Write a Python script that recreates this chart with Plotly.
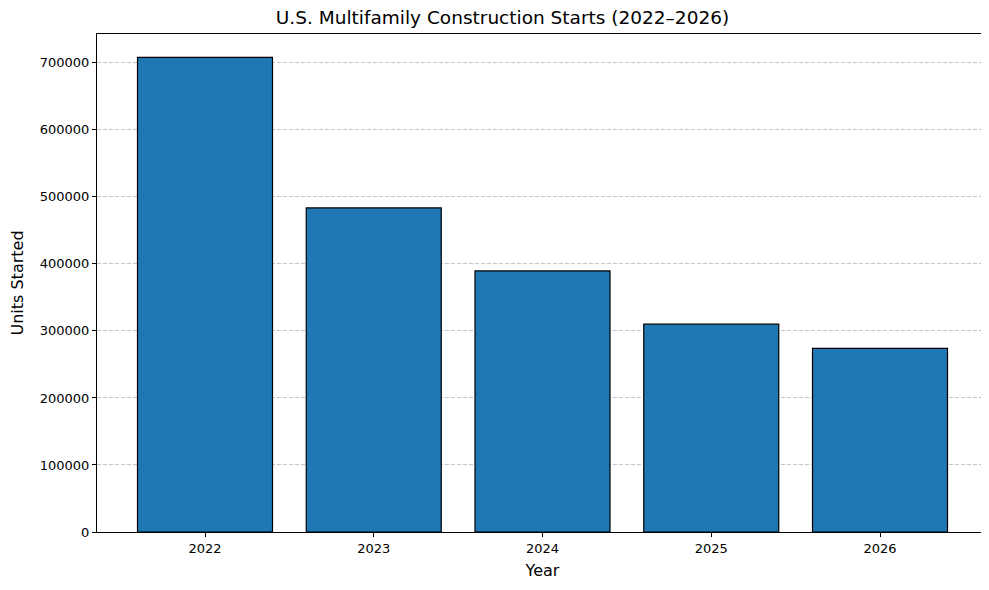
import plotly.graph_objects as go

# multifamily starts
years = ["2022", "2023", "2024", "2025", "2026"]
units_started = [708000, 483500, 389500, 310000, 274000]

bar_colour = "#1f77b4"

fig = go.Figure(
    go.Bar(
        x=list(range(len(years))),
        y=units_started,
        width=0.8,
        marker=dict(color=bar_colour, line=dict(color="black", width=1.2)),
        name="Units Started",
    )
)

axis_common = dict(
    showline=True,
    linecolor="black",
    linewidth=1,
    mirror=True,
    ticks="outside",
    ticklen=4,
    tickcolor="black",
    tickfont=dict(size=13, color="black"),
    zeroline=False,
    automargin=False,
)

fig.update_layout(
    width=989,
    height=590,
    margin=dict(l=89, r=9, t=26, b=66),
    plot_bgcolor="white",
    paper_bgcolor="white",
    font=dict(family="DejaVu Sans", color="black"),
    showlegend=False,
    title=dict(
        text="U.S. Multifamily Construction Starts (2022\u20132026)",
        x=0.5,
        xanchor="center",
        y=0.995,
        yanchor="top",
        font=dict(size=18.5),
    ),
    xaxis=dict(
        **axis_common,
        title=dict(text="Year", font=dict(size=16), standoff=10),
        tickvals=list(range(len(years))),
        ticktext=years,
        range=[-0.64, 4.64],
        showgrid=False,
    ),
    yaxis=dict(
        **axis_common,
        title=dict(text="Units Started", font=dict(size=16), standoff=13),
        range=[0, 743000],
        dtick=100000,
        tickformat="d",
        showgrid=True,
        gridcolor="rgba(176,176,176,0.75)",
        griddash="4px,2px",
        gridwidth=0.8,
    ),
)

fig.write_html("out.html")
